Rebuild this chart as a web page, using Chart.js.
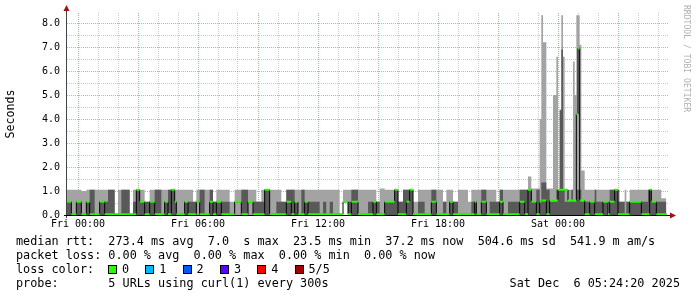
<!DOCTYPE html>
<html><head><meta charset="utf-8">
<script src="https://cdn.jsdelivr.net/npm/chart.js@4"></script>
<style>
html,body{margin:0;padding:0;background:#fff;}
#wrap{position:relative;width:697px;height:297px;overflow:hidden;background:#fff;}
canvas{position:absolute;left:0;top:0;}
.t{position:absolute;font-family:"DejaVu Sans Mono",monospace;font-size:11.8px;color:#000;white-space:pre;line-height:14px;}
.box{position:absolute;width:9px;height:9px;border:1px solid #000;box-sizing:border-box;}
#wm{position:absolute;left:682px;top:5px;writing-mode:vertical-rl;font-family:"DejaVu Sans Mono",monospace;font-size:8.1px;color:#b0b0b0;white-space:pre;line-height:10px;}
</style></head><body>
<div id="wrap">
<canvas id="c" width="697" height="297"></canvas>
<div id="wm">RRDTOOL / TOBI OETIKER</div>
<div class="t" style="left:16px;top:234px">median rtt:  273.4 ms avg  7.0  s max  23.5 ms min  37.2 ms now  504.6 ms sd  541.9 m am/s</div>
<div class="t" style="left:16px;top:248px">packet loss: 0.00 % avg  0.00 % max  0.00 % min  0.00 % now</div>
<div class="t" style="left:16px;top:262px">loss color:</div>
<div class="t" style="left:16px;top:276px">probe:       5 URLs using curl(1) every 300s</div>
<div class="t" style="right:17px;top:276px">Sat Dec  6 05:24:20 2025</div>
<div id="legend"></div>
</div>
<script>
// time in minutes from Fri 00:00; each step holds its values until the next start
const stepStart = [
 -35,-20,-5,10,25,35,50,65,80,90,
 110,120,130,155,165,175,185,200,215,230,
 250,260,270,280,290,295,320,330,345,355,
 365,380,395,405,415,430,455,470,490,510,
 525,535,550,560,575,595,610,625,640,650,
 660,670,680,690,725,735,745,755,765,785,
 795,810,820,840,870,885,895,905,920,950,
 960,975,985,995,1005,1020,1040,1060,1075,1095,
 1105,1115,1125,1140,1170,1180,1190,1195,1210,1225,
 1235,1255,1265,1275,1290,1325,1340,1350,1360,1375,
 1385,1390,1395,1405,1415,1425,1435,1440,1445,1450,
 1455,1460,1470,1480,1485,1490,1495,1500,1505,1510,
 1520,1535,1550,1555,1575,1590,1595,1610,1620,1625,
 1640,1645,1655,1690,1710,1715,1720,1735,1750,1765
];
// outer smoke (slowest ping) in seconds
const smokeMax = [
 1.05,1.05,1.05,1.0,1.05,1.05,1.05,1.05,1.05,1.05,
 0,1.05,1.05,0,1.05,1.05,1.05,0.55,1.05,1.05,
 1.05,1.05,1.05,1.05,1.05,1.05,1.05,1.05,0.55,1.05,
 1.05,1.05,1.05,0.55,1.05,1.05,0.55,1.05,1.05,1.05,
 1.05,0.55,1.05,1.05,1.05,1.05,0.55,1.05,1.05,1.05,
 1.05,1.05,1.05,1.05,1.05,1.05,1.05,1.05,1.05,0,
 1.05,1.05,1.05,1.05,1.05,1.05,0.55,1.1,1.05,1.05,
 0.55,1.05,1.05,1.05,0.55,1.05,1.05,1.05,1.05,0.55,
 1.05,1.05,0.55,1.05,0.55,1.05,1.05,1.05,1.05,1.05,
 1.05,0.55,1.05,1.05,1.05,1.05,1.05,1.6,1.1,1.1,
 4.0,8.33,7.2,1.1,1.1,5.0,6.6,1.05,4.4,8.33,
 6.6,1.05,1.05,1.05,6.4,5.0,8.33,8.33,7.1,1.85,
 1.05,1.05,1.05,1.05,1.05,1.05,1.05,1.05,1.05,0.55,
 1.05,0.55,1.05,1.05,1.05,1.05,1.05,1.05,0.7,0
];
// fastest ping (bottom of smoke)
const smokeMin = [
 0,0,0,0,0,0,0,0,0,0, 0,0,0,0,0,0,0,0,0,0,
 0,0,0,0,0,0,0,0,0,0, 0,0,0,0,0,0,0,0,0,0,
 0,0,0,0,0,0,0,0,0,0, 0,0,0,0,0,0,0,0,0,0,
 0.55,0,0,0,0,0,0,0,0,0, 0,0,0,0,0,0,0,0,0,0,
 0,0,0,0,0,0,0,0,0,0, 0,0,0,0,0,0,0,0,0,0,
 0,0,0,0,0,0,0,0,0,0, 0,0,0,0,0,0,0,0,0,0,
 0,0,0,0,0,0,0,0,0,0, 0,0,0,0,0,0,0,0,0,0
];
// inner smoke (middle pings)
const innerMax = [
 0.55,0,0.55,0,0.55,1.05,0,0.55,0.55,1.05,
 0,0,1.05,0,0.55,1.05,0.55,0.55,0.55,1.05,
 0,0.55,1.05,1.05,0.55,0,0.55,0.55,0.55,0,
 1.05,0,1.05,0.55,0.55,0.55,0,0,1.05,0,
 0.55,0.55,0.55,1.05,0,0.55,0.55,1.05,1.05,0.55,
 0,1.05,0.55,0.55,0,0.55,0,0.55,0,0,
 0.55,0.55,1.05,0,0.55,0.55,0.55,0,0.55,1.05,
 0.55,1.05,1.05,1.05,0,0.55,0,1.05,0,0.55,
 0,0.55,0.55,0,0,0.55,0.55,0,1.05,0,
 0.55,0.55,1.05,0,0.55,1.05,1.05,1.05,0.55,1.05,
 0.55,1.35,1.35,1.05,0.55,0.55,1.05,1.05,4.37,6.9,
 1.05,0.55,0.55,1.05,0.55,0.55,1.05,1.05,1.05,0.55,
 0.55,0.55,1.05,0.55,0.55,0,1.05,1.05,0.55,0.55,
 0,0.55,0.55,0.55,1.05,1.05,0.55,0.55,0.55,0
];
// median round trip time
const medianRtt = [
 0.55,0.03,0.55,0.03,0.55,0.03,0.03,0.55,0.03,0.03,
 0.03,0.03,0.03,0.03,0.03,1.05,0.55,0.03,0.55,0.03,
 0.03,0.55,0.03,1.05,0.55,0.03,0.55,0.03,0.03,0.55,
 0.03,0.03,0.55,0.03,0.55,0.03,0.03,0.55,0.03,0.55,
 0.03,0.03,0.03,1.05,0.03,0.03,0.03,0.55,0.03,0.55,
 0.03,0.03,0.55,0.03,0.03,0.03,0.03,0.03,0.03,0.03,
 0.55,0.03,0.55,0.03,0.03,0.55,0.03,0.03,0.55,1.05,
 0.03,0.03,0.55,1.05,0.03,0.03,0.03,0.55,0.03,0.03,
 0.03,0.55,0.03,0.03,0.03,0.03,0.55,0.03,0.55,0.03,
 0.03,0.03,0.55,0.03,0.03,0.55,0.03,1.05,0.55,0.03,
 0.55,0.6,0.6,0.03,0.6,0.6,0.6,1.05,1.05,1.05,
 1.05,1.05,0.6,0.6,0.6,0.6,4.2,6.95,0.6,0.6,
 0.03,0.55,0.03,0.03,0.55,0.03,0.55,1.05,0.03,0.03,
 0.03,0.03,0.55,0.03,0.03,1.05,0.55,0.03,0.03,0.03
];
const xTickMinutes = [0,360,720,1080,1440];
const xTickLabels = ['Fri 00:00','Fri 06:00','Fri 12:00','Fri 18:00','Sat 00:00'];
const yTickValues = [0,1,2,3,4,5,6,7,8];
const lossLabels = ['0','1','2','3','4','5/5'];
const lossColors = ['#26ff00','#00b8ff','#0059ff','#5e00ff','#ff0000','#a10000'];

// loss color legend
const lg = document.getElementById('legend');
lossLabels.forEach((lab,i)=>{
  const x = 108 + i*37.3;
  const b = document.createElement('div'); b.className='box';
  b.style.left = x+'px'; b.style.top='265px'; b.style.background = lossColors[i];
  lg.appendChild(b);
  const t = document.createElement('div'); t.className='t';
  t.style.left = (x+14)+'px'; t.style.top='262px'; t.textContent = lab;
  lg.appendChild(t);
});

const steps = vals => stepStart.map((t,i)=>({x:t,y:vals[i]}));
const greenRuns = [];
for (let i=0;i<stepStart.length-1;i++){
  greenRuns.push({x:stepStart[i],y:medianRtt[i]},{x:stepStart[i+1],y:medianRtt[i]},{x:stepStart[i+1],y:null});
}
const RED='rgba(205,90,90,0.55)', GREY='rgba(150,150,150,0.5)';
const mono = "'DejaVu Sans Mono', monospace";

const axesPlugin = {
  id:'axes',
  afterDraw(chart){
    const {ctx, chartArea:a} = chart;
    ctx.save();
    ctx.strokeStyle = '#444'; ctx.lineWidth = 1;
    ctx.beginPath(); ctx.moveTo(a.left-0.5, a.bottom+3); ctx.lineTo(a.left-0.5, a.top-3); ctx.stroke();
    ctx.strokeStyle = '#000';
    ctx.beginPath(); ctx.moveTo(a.left-3, a.bottom+0.5); ctx.lineTo(a.right+1, a.bottom+0.5); ctx.stroke();
    ctx.fillStyle = '#a01010';
    ctx.beginPath(); ctx.moveTo(a.left-3.5, a.top-2); ctx.lineTo(a.left+2.5, a.top-2); ctx.lineTo(a.left-0.5, a.top-8); ctx.closePath(); ctx.fill();
    ctx.beginPath(); ctx.moveTo(a.right+1, a.bottom-2.5); ctx.lineTo(a.right+1, a.bottom+3.5); ctx.lineTo(a.right+7, a.bottom+0.5); ctx.closePath(); ctx.fill();
    ctx.restore();
  }
};

new Chart(document.getElementById('c'), {
  type:'line',
  data:{datasets:[
    {data:greenRuns, borderColor:'#26ff00', borderWidth:2, pointRadius:0, fill:false, spanGaps:false},
    {data:steps(medianRtt), stepped:true, borderColor:'#000', borderWidth:1, pointRadius:0, fill:false},
    {data:steps(innerMax), stepped:true, borderColor:'rgba(0,0,0,0)', borderWidth:0, pointRadius:0, fill:4, backgroundColor:'#595959'},
    {data:steps(smokeMax), stepped:true, borderColor:'rgba(0,0,0,0)', borderWidth:0, pointRadius:0, fill:4, backgroundColor:'#a3a3a3'},
    {data:steps(smokeMin), stepped:true, borderColor:'rgba(0,0,0,0)', borderWidth:0, pointRadius:0, fill:false}
  ]},
  options:{
    responsive:false, animation:false, devicePixelRatio:1,
    layout:{padding:{left:0,top:13,right:28,bottom:66}},
    plugins:{legend:{display:false}, tooltip:{enabled:false}},
    scales:{
      x:{type:'linear', min:-33, max:1773, z:1,
        afterBuildTicks:s=>{ const t=[]; for(let v=0; v<=1740; v+=60) t.push({value:v}); s.ticks=t; },
        afterFit:s=>{ s.height=16; },
        ticks:{autoSkip:false, maxRotation:0, padding:3, color:'#000', font:{family:mono,size:10},
          callback:v=>{ const k=xTickMinutes.indexOf(v); return k<0?'':xTickLabels[k]; }},
        grid:{drawTicks:false, lineWidth:1, color:c=>(c.tick && c.tick.value%180===0)?RED:GREY},
        border:{display:false, dash:[1,1]}
      },
      y:{min:0, max:8.42, z:1,
        afterBuildTicks:s=>{ const t=[]; for(let v=0; v<=8; v+=0.5) t.push({value:v}); s.ticks=t; },
        afterFit:s=>{ s.width=67; },
        ticks:{autoSkip:false, padding:7, color:'#000', font:{family:mono,size:10},
          callback:v=>{ const k=yTickValues.indexOf(v); return k<0?'':v.toFixed(1); }},
        grid:{drawTicks:false, lineWidth:1, color:c=>(c.tick && Number.isInteger(c.tick.value))?RED:GREY},
        border:{display:false, dash:[1,1]},
        title:{display:true, text:'Seconds', color:'#000', font:{family:mono,size:11.6}, padding:{top:4,bottom:0}}
      }
    }
  },
  plugins:[axesPlugin]
});
</script>
</body></html>
